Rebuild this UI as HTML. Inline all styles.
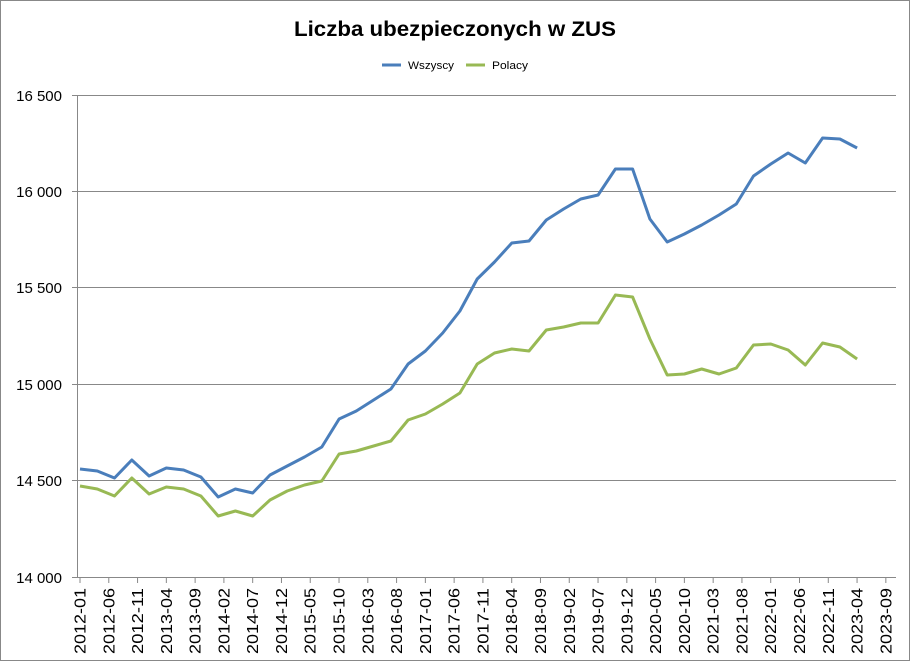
<!DOCTYPE html>
<html><head><meta charset="utf-8"><style>
html,body{margin:0;padding:0;background:#fff;}
svg{display:block;font-family:"Liberation Sans",sans-serif;}
</style></head><body>
<svg width="910" height="661" viewBox="0 0 910 661" xmlns="http://www.w3.org/2000/svg">
<rect x="0.5" y="0.5" width="909" height="660" fill="#fff" stroke="#888"/>
<text x="455" y="36" text-anchor="middle" font-size="21" font-weight="bold" textLength="322" lengthAdjust="spacingAndGlyphs">Liczba ubezpieczonych w ZUS</text>
<line x1="382" y1="65" x2="401" y2="65" stroke="#4a7ebb" stroke-width="3"/>
<text x="408" y="69" font-size="11" textLength="46" lengthAdjust="spacingAndGlyphs">Wszyscy</text>
<line x1="466" y1="65" x2="485" y2="65" stroke="#98b954" stroke-width="3"/>
<text x="492" y="69" font-size="11" textLength="36" lengthAdjust="spacingAndGlyphs">Polacy</text>
<g stroke="#888" stroke-width="1">
<line x1="72" y1="95.5" x2="896" y2="95.5"/>
<line x1="72" y1="191.5" x2="896" y2="191.5"/>
<line x1="72" y1="287.5" x2="896" y2="287.5"/>
<line x1="72" y1="384.5" x2="896" y2="384.5"/>
<line x1="72" y1="480.5" x2="896" y2="480.5"/>
<line x1="72" y1="577.5" x2="896" y2="577.5"/>
<line x1="77.5" y1="95" x2="77.5" y2="577"/>
</g>
<g font-size="15" text-anchor="end">
<text x="62" y="101">16 500</text>
<text x="62" y="197">16 000</text>
<text x="62" y="293">15 500</text>
<text x="62" y="390">15 000</text>
<text x="62" y="486">14 500</text>
<text x="62" y="583">14 000</text>
</g>
<g id="ticks" stroke="#888"></g>
<g id="labels" font-size="16" text-anchor="end"></g>
<polyline id="b" fill="none" stroke="#4a7ebb" stroke-width="3" stroke-linejoin="round"/>
<polyline id="g" fill="none" stroke="#98b954" stroke-width="3" stroke-linejoin="round"/>
</svg>
<script>
var by=[469,471,478,460,476,468,470,477,497,489,493,475,466,457,447,419,411,400,389,364,351,333,311,279,262,243,241,220,209,199,195,169,169,219,242,234,225,215,204,176,164,153,163,138,139,148];
var gy=[486,489,496,478,494,487,489,496,516,511,516,500,491,485,481,454,451,446,441,420,414,404,393,364,353,349,351,330,327,323,323,295,297,339,375,374,369,374,368,345,344,350,365,343,347,359];
function pts(a){return a.map(function(y,i){return (80+i*17.27).toFixed(1)+","+y}).join(" ");}
document.getElementById("b").setAttribute("points",pts(by));
document.getElementById("g").setAttribute("points",pts(gy));
var ns="http://www.w3.org/2000/svg",t=document.getElementById("ticks"),l=document.getElementById("labels");
var y=2012,m=1;
for(var k=0;k<29;k++){
 var x=80+k*28.78;
 var ln=document.createElementNS(ns,"line");ln.setAttribute("x1",x);ln.setAttribute("x2",x);ln.setAttribute("y1",577);ln.setAttribute("y2",583);t.appendChild(ln);
 var tx=document.createElementNS(ns,"text");tx.setAttribute("transform","translate("+(x+5.5)+",588) rotate(-90)");
 tx.setAttribute("textLength","66");tx.setAttribute("lengthAdjust","spacingAndGlyphs");
 tx.textContent=y+"-"+(m<10?"0":"")+m;l.appendChild(tx);
 m+=5;if(m>12){m-=12;y++;}
}
</script>
</body></html>
